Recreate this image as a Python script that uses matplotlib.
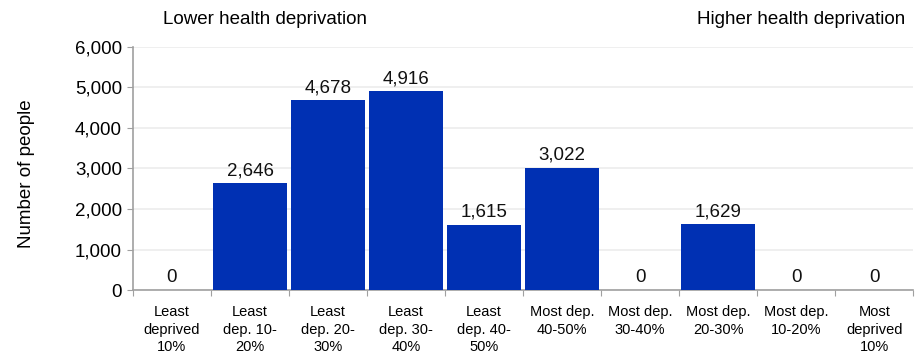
import matplotlib
matplotlib.use('Agg')
import matplotlib.pyplot as plt
import numpy as np

plt.rcParams['font.family'] = ['Liberation Sans', 'DejaVu Sans']

categories = ['Least\ndeprived\n10%', 'Least\ndep. 10-\n20%', 'Least\ndep. 20-\n30%',
              'Least\ndep. 30-\n40%', 'Least\ndep. 40-\n50%', 'Most dep.\n40-50%',
              'Most dep.\n30-40%', 'Most dep.\n20-30%', 'Most dep.\n10-20%',
              'Most\ndeprived\n10%']
people = [0, 2646, 4678, 4916, 1615, 3022, 0, 1629, 0, 0]

fig = plt.figure(figsize=(9.19, 3.55), dpi=100)
ax = fig.add_axes([0.1447, 0.183, 0.849, 0.685])

x = np.arange(len(categories))
ax.bar(x, people, width=0.94, color='#0030b3', zorder=3)

for xi, v in zip(x, people):
    ax.text(xi, v + 90, f'{v:,}', ha='center', va='bottom', fontsize=13.5, color='#111111')

ax.set_xlim(-0.5, len(categories) - 0.5)
ax.set_ylim(0, 6000)
ax.set_yticks(range(0, 6001, 1000))
ax.set_yticklabels([f'{t:,}' for t in range(0, 6001, 1000)], fontsize=13.5)
ax.yaxis.grid(True, color='#ececec', linewidth=1.2, zorder=0)

ax.set_xticks(np.arange(-0.5, len(categories), 1.0))
ax.set_xticklabels([])
ax.set_xticks(x, minor=True)
ax.set_xticklabels(categories, minor=True, fontsize=10.5, linespacing=1.3)
ax.tick_params(axis='x', which='minor', length=0, pad=11)
ax.tick_params(axis='x', which='major', length=4, color='#a0a0a0')
ax.tick_params(axis='y', length=4, color='#a0a0a0', pad=4)

for s in ['top', 'right']:
    ax.spines[s].set_visible(False)
for s in ['left', 'bottom']:
    ax.spines[s].set_color('#a0a0a0')
    ax.spines[s].set_linewidth(1.2)

ax.set_ylabel('Number of people', fontsize=13.5)
ax.yaxis.set_label_coords(-0.126, 0.48)

fig.text(265 / 919, 1 - 19 / 355, 'Lower health deprivation', ha='center', va='center', fontsize=13.5)
fig.text(905 / 919, 1 - 20 / 355, 'Higher health deprivation', ha='right', va='center', fontsize=13.5)

fig.savefig('out.png', dpi=100)
